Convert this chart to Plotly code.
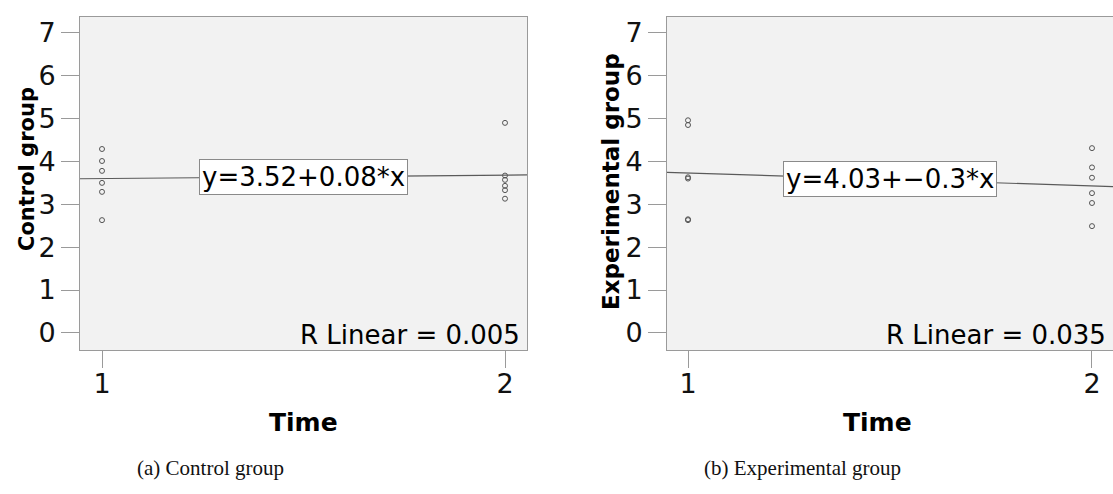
import plotly.graph_objects as go

# Scores at the two measurement times
time_points = [1, 2]
control_t1 = [4.29, 4.01, 3.78, 3.50, 3.29, 2.63]
control_t2 = [4.90, 3.67, 3.57, 3.43, 3.33, 3.13]
experimental_t1 = [4.96, 4.85, 3.63, 3.60, 2.65, 2.63]
experimental_t2 = [4.31, 3.86, 3.62, 3.26, 3.03, 2.49]

# Fitted linear models (intercept, slope) and R-squared
control_fit = (3.52, 0.08)
experimental_fit = (4.03, -0.3)
control_r2 = 0.005
experimental_r2 = 0.035

y_ticks = [0, 1, 2, 3, 4, 5, 6, 7]
panel_titles = ["Control group", "Experimental group"]
captions = ["(a) Control group", "(b) Experimental group"]

W, H = 1113, 494
FRAME = "#9a9a9a"
MARK = "#555555"
TICK_FONT = dict(family="DejaVu Sans", size=27, color="#111111")

panels = [
    dict(t1=control_t1, t2=control_t2, fit=control_fit, r2=control_r2,
         xdom=[80 / W, 527 / W], xrange=[0.9454, 2.0546],
         eq="y=3.52+0.08*x", ytitle=panel_titles[0], ytitle_x=27, ytitle_y=169,
         ytitle_size=21, caption=captions[0], cap_x=210, time_x=303),
    dict(t1=experimental_t1, t2=experimental_t2, fit=experimental_fit, r2=experimental_r2,
         xdom=[667 / W, 1.0], xrange=[0.948, 2.052],
         eq="y=4.03+\u22120.3*x", ytitle=panel_titles[1], ytitle_x=611, ytitle_y=182,
         ytitle_size=23, caption=captions[1], cap_x=802, time_x=877),
]

ydom = [(H - 350) / H, (H - 17) / H]
yrange = [-0.4, 7.37]

fig = go.Figure()
annotations = []
layout_axes = {}

for i, p in enumerate(panels, start=1):
    xa = "x" if i == 1 else f"x{i}"
    ya = "y" if i == 1 else f"y{i}"
    xkey = "xaxis" if i == 1 else f"xaxis{i}"
    ykey = "yaxis" if i == 1 else f"yaxis{i}"

    xs = [time_points[0]] * len(p["t1"]) + [time_points[1]] * len(p["t2"])
    ys = p["t1"] + p["t2"]
    fig.add_trace(go.Scatter(
        x=xs, y=ys, mode="markers", xaxis=xa, yaxis=ya, showlegend=False,
        marker=dict(symbol="circle-open", size=5, color=MARK, line=dict(width=1, color=MARK)),
    ))

    b0, b1 = p["fit"]
    lx = p["xrange"]
    fig.add_trace(go.Scatter(
        x=lx, y=[b0 + b1 * v for v in lx], mode="lines", xaxis=xa, yaxis=ya,
        showlegend=False, line=dict(color="#5a5a5a", width=1.2),
    ))

    layout_axes[xkey] = dict(
        domain=p["xdom"], range=p["xrange"], tickvals=time_points,
        ticktext=[str(t) for t in time_points], ticks="outside", ticklen=17,
        tickcolor=FRAME, tickwidth=1, showline=True, linecolor=FRAME, linewidth=1,
        mirror=True, showgrid=False, zeroline=False, tickfont=TICK_FONT, anchor=ya,
        ticklabelstandoff=-7,
    )
    layout_axes[ykey] = dict(
        domain=ydom, range=yrange, tickvals=y_ticks, ticks="outside", ticklen=18,
        tickcolor=FRAME, tickwidth=1, showline=True, linecolor=FRAME, linewidth=1,
        mirror=True, showgrid=False, zeroline=False, tickfont=TICK_FONT, anchor=xa,
    )

    # equation label at the middle of the fitted line
    xm = sum(time_points) / 2
    annotations.append(dict(
        x=xm, y=b0 + b1 * xm, xref=xa, yref=ya, text=p["eq"], showarrow=False,
        xanchor="center", yanchor="middle",
        font=dict(family="DejaVu Sans", size=26, color="#000000"),
        bgcolor="#ffffff", bordercolor="#8a8a8a", borderwidth=1, borderpad=2,
    ))
    # R-squared in the lower right corner
    annotations.append(dict(
        x=1, y=0.045, xref=f"{xa} domain", yref=f"{ya} domain", xanchor="right",
        yanchor="middle", xshift=-5, text=f"R Linear = {p['r2']:.3f}", showarrow=False,
        font=dict(family="DejaVu Sans", size=26, color="#000000"),
    ))
    # axis titles
    annotations.append(dict(
        x=p["time_x"] / W, y=(H - 422) / H, xref="paper", yref="paper",
        xanchor="center", yanchor="middle",
        text="<b>Time</b>", showarrow=False,
        font=dict(family="DejaVu Sans", size=25, color="#000000"),
    ))
    annotations.append(dict(
        x=p["ytitle_x"] / W, y=(H - p["ytitle_y"]) / H, xref="paper", yref="paper",
        xanchor="center", yanchor="middle",
        text=f"<b>{p['ytitle']}</b>", textangle=-90, showarrow=False,
        font=dict(family="DejaVu Sans", size=p["ytitle_size"], color="#000000"),
    ))
    annotations.append(dict(
        x=p["cap_x"] / W, y=(H - 468) / H, xref="paper", yref="paper",
        xanchor="center", yanchor="middle",
        text=p["caption"], showarrow=False,
        font=dict(family="Liberation Serif", size=21, color="#111111"),
    ))

fig.update_layout(
    width=W, height=H, margin=dict(l=0, r=0, t=0, b=0),
    paper_bgcolor="#ffffff", plot_bgcolor="#f2f2f2",
    annotations=annotations, **layout_axes,
)

fig.write_html("out.html")
